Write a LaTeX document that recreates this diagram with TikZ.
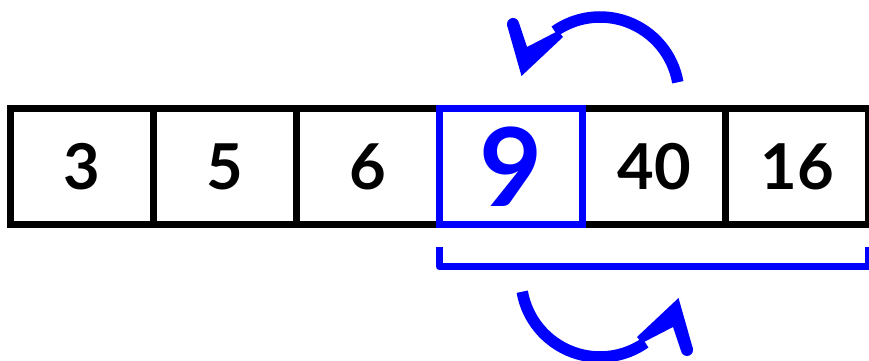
\documentclass[tikz,border=0pt]{standalone}
\usepackage{fontspec}
\setmainfont{Lato}
\usetikzlibrary{
    positioning          % For placing the cells side by side
}

\begin{document}
\begin{tikzpicture}[
    node distance=0pt,
    cell/.style={draw, line width=0.07cm, minimum width=1.43cm, minimum height=1.155cm,
        inner sep=0pt, outer sep=0pt, font=\fontsize{18}{20}\selectfont\bfseries}, % Array cells
    pivotcell/.style={text=blue, font=\fontsize{31}{34}\selectfont\bfseries}, % Current element
    hilite/.style={draw=blue, line width=0.07cm}, % Blue frame round the current cell
    bracket/.style={blue, line width=0.07cm, line join=round}, % Bracket under the rest
    swaparrow/.style={blue, line width=0.115cm} % Curved arrows
]
    \useasboundingbox (0,0) rectangle (8.69,3.61);

    % Array cells
    \node[cell] (c1) at (0.82,1.9425) {3};
    \node[cell, right=of c1] (c2) {5};
    \node[cell, right=of c2] (c3) {6};
    \node[cell, pivotcell, right=of c3] (c4) {9};
    \node[cell, right=of c4] (c5) {40};
    \node[cell, right=of c5] (c6) {16};

    % Highlight the current cell
    \draw[hilite] (c4.south west) rectangle (c4.north east);

    % Bracket under the unsorted part
    \coordinate (brL) at ([yshift=-0.225cm]c4.south west);
    \coordinate (brR) at ([yshift=-0.225cm]c6.south east);
    \draw[bracket] (brL) -- ++(0,-0.2) -| (brR);

    % Curved arrows (bottom one is the top one turned round the pivot)
    \coordinate (pivot) at (6.0,1.74);
    \foreach \ang in {0,180}{
        \begin{scope}[rotate around={\ang:(pivot)}]
            \draw[swaparrow] (6.0,2.65) ++(10:0.79) arc[start angle=10, end angle=125, radius=0.79];
            \fill[blue] (5.215,2.85) -- (5.07,3.36) -- (5.19,3.38) -- (5.27,3.14)
                -- (5.58,3.30) -- (5.63,3.24) -- cycle; % Arrow head
            \fill[blue] (5.13,3.37) circle (0.06); % Round end of the barb
        \end{scope}
    }

\end{tikzpicture}
\end{document}
